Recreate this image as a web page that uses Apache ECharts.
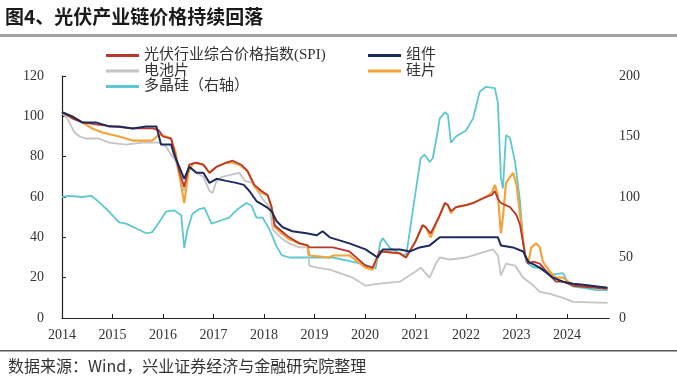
<!DOCTYPE html>
<html>
<head>
<meta charset="utf-8">
<script src="https://cdn.jsdelivr.net/npm/echarts@6/dist/echarts.min.js"></script>
<style>
html,body{margin:0;padding:0;background:#fff;}
#chart{width:677px;height:389px;}
</style>
</head>
<body>
<div id="chart"></div>
<script>
var yearTicks = [2014, 2015, 2016, 2017, 2018, 2019, 2020, 2021, 2022, 2023, 2024];
var leftTicks = [0, 20, 40, 60, 80, 100, 120];
var rightTicks = [0, 50, 100, 150, 200];

var seriesNames = ['光伏行业综合价格指数(SPI)', '组件', '电池片', '硅片', '多晶硅（右轴）'];

var spi = [[2014.00,102],[2014.20,99],[2014.40,97],[2014.67,96],[2015.00,95],[2015.40,94],[2015.80,94],[2015.92,93],[2016.00,90],[2016.16,89],[2016.25,80],[2016.33,72],[2016.42,65],[2016.52,76],[2016.66,77],[2016.80,76],[2016.92,72],[2017.06,75],[2017.25,77],[2017.38,78],[2017.55,76],[2017.67,73],[2017.81,66],[2017.95,63],[2018.07,61],[2018.15,55],[2018.21,46],[2018.35,43],[2018.50,40],[2018.70,37],[2018.86,36],[2018.90,35],[2019.30,35],[2019.36,35],[2019.69,33],[2020.01,26],[2020.15,25],[2020.29,33],[2020.69,32],[2020.81,30],[2021.00,38],[2021.14,46],[2021.20,45],[2021.30,42],[2021.48,51],[2021.58,57],[2021.64,56],[2021.70,53],[2021.80,55],[2022.00,56],[2022.14,57],[2022.39,60],[2022.51,61],[2022.57,63],[2022.63,59],[2022.69,57],[2022.87,55],[2023.00,51],[2023.07,46],[2023.17,31],[2023.23,27],[2023.33,28],[2023.46,27],[2023.66,21],[2023.78,18],[2023.92,18],[2024.12,16],[2024.80,14.5]];

var module = [[2014.00,102],[2014.20,100],[2014.40,97],[2014.67,97],[2014.93,95],[2015.13,95],[2015.40,94],[2015.67,95],[2015.87,95],[2015.90,92],[2015.96,86],[2016.16,86],[2016.22,81],[2016.32,75],[2016.42,69],[2016.52,75],[2016.66,72],[2016.80,72],[2016.92,67],[2017.06,69],[2017.25,68],[2017.45,67],[2017.60,66],[2017.71,63],[2017.85,58],[2018.05,55],[2018.15,53],[2018.25,48],[2018.37,45],[2018.56,43],[2018.84,42],[2019.04,41],[2019.16,43],[2019.30,40],[2019.69,37],[2020.01,34],[2020.25,30],[2020.35,34],[2020.69,34],[2020.89,33],[2021.08,35],[2021.28,36],[2021.48,40],[2021.68,40],[2022.14,40],[2022.63,40],[2022.69,36],[2022.93,35],[2023.13,33],[2023.23,28],[2023.46,25],[2023.72,20],[2023.92,18],[2024.12,17],[2024.32,16.5],[2024.80,15]];

var cell = [[2014.00,102],[2014.10,99],[2014.25,92],[2014.35,90],[2014.48,89],[2014.73,89],[2014.93,87],[2015.27,86],[2015.59,87],[2015.92,87],[2016.06,85],[2016.16,81],[2016.25,78],[2016.33,70],[2016.42,63],[2016.52,75],[2016.66,72],[2016.80,70],[2016.92,63],[2016.98,62],[2017.06,68],[2017.17,70],[2017.51,72],[2017.62,68],[2017.77,67],[2017.97,59],[2018.11,55],[2018.17,44],[2018.25,42],[2018.37,39],[2018.50,37],[2018.70,35],[2018.86,35],[2018.90,26],[2019.04,25],[2019.30,24],[2019.76,20],[2020.01,16],[2020.29,17],[2020.69,18],[2021.00,23],[2021.10,25],[2021.28,20],[2021.40,27],[2021.48,30],[2021.68,29],[2022.00,30],[2022.14,31],[2022.53,34],[2022.63,31],[2022.69,21],[2022.79,27],[2022.97,26],[2023.13,20],[2023.29,17],[2023.46,13],[2023.66,12],[2023.92,10],[2024.12,8],[2024.80,7.5]];

var wafer = [[2014.00,102],[2014.20,100],[2014.40,97],[2014.60,94],[2014.80,92],[2015.13,90],[2015.40,88],[2015.79,88],[2015.92,91],[2016.06,90],[2016.16,89],[2016.25,82],[2016.33,70],[2016.42,57],[2016.50,72],[2016.60,77],[2016.80,76],[2016.92,72],[2017.06,75],[2017.25,77],[2017.38,77],[2017.51,76],[2017.67,73],[2017.81,65],[2017.95,62],[2018.07,61],[2018.15,55],[2018.21,45],[2018.35,42],[2018.50,39],[2018.70,37],[2018.86,36],[2018.90,31],[2019.30,30],[2019.36,31],[2019.69,31],[2020.01,25],[2020.15,24],[2020.29,33],[2020.69,32],[2020.81,30],[2021.00,38],[2021.14,46],[2021.20,45],[2021.30,40],[2021.48,51],[2021.58,57],[2021.64,56],[2021.70,52],[2021.80,55],[2022.00,56],[2022.14,57],[2022.39,60],[2022.51,62],[2022.57,66],[2022.63,61],[2022.69,42],[2022.73,50],[2022.79,67],[2022.93,72],[2023.00,66],[2023.07,51],[2023.17,31],[2023.23,27],[2023.29,35],[2023.39,37],[2023.46,35],[2023.52,28],[2023.66,23],[2023.78,20],[2023.92,20],[2024.12,16],[2024.80,15]];

var polysilicon = [[2014.00,100],[2014.14,101],[2014.40,100],[2014.58,101],[2014.73,96],[2014.93,88],[2015.13,79],[2015.27,78],[2015.47,74],[2015.67,70],[2015.79,71],[2015.92,79],[2016.06,88],[2016.22,89],[2016.36,85],[2016.42,58],[2016.48,72],[2016.58,86],[2016.72,90],[2016.82,91],[2016.96,78],[2017.17,81],[2017.31,83],[2017.45,89],[2017.65,95],[2017.75,93],[2017.85,83],[2017.97,83],[2018.11,73],[2018.17,67],[2018.25,59],[2018.35,52],[2018.50,50],[2018.70,50],[2019.16,50],[2019.36,50],[2019.70,47],[2020.01,44],[2020.21,41],[2020.30,62],[2020.35,66],[2020.49,58],[2020.75,52],[2020.82,53],[2020.95,90],[2021.10,132],[2021.18,135],[2021.28,129],[2021.34,132],[2021.42,150],[2021.48,165],[2021.58,170],[2021.64,168],[2021.70,145],[2021.80,150],[2022.00,155],[2022.14,165],[2022.27,187],[2022.39,191],[2022.57,190],[2022.63,178],[2022.69,116],[2022.73,107],[2022.79,151],[2022.87,149],[2022.97,129],[2023.07,96],[2023.13,63],[2023.19,46],[2023.33,42],[2023.46,41],[2023.72,36],[2023.92,37],[2024.02,29],[2024.12,26],[2024.32,25],[2024.58,23],[2024.80,23]];

var colors = {
  spi: '#b8382c',
  module: '#1d2b5c',
  cell: '#c4c4c4',
  wafer: '#f2a43a',
  poly: '#5cc8d2'
};

var serif = '"Liberation Serif", "Noto Sans CJK SC", serif';
var chart = echarts.init(document.getElementById('chart'));

function lineSeries(name, data, color, yIndex, width) {
  return {
    name: name, type: 'line', data: data, yAxisIndex: yIndex,
    symbol: 'none', smooth: false,
    lineStyle: { color: color, width: width },
    itemStyle: { color: color },
    z: 2
  };
}

var legendText = { fontFamily: serif, fontSize: 15, color: '#333' };

chart.setOption({
  animation: false,
  grid: { left: 62, right: 68, top: 76, bottom: 71, containLabel: false },
  legend: [
    { data: [seriesNames[0], seriesNames[2], seriesNames[4]], orient: 'vertical', left: 106, top: 48,
      itemWidth: 33, itemHeight: 3, icon: 'rect', itemGap: 0.5, textStyle: legendText, padding: 0 },
    { data: [seriesNames[1], seriesNames[3]], orient: 'vertical', left: 368, top: 48,
      itemWidth: 33, itemHeight: 3, icon: 'rect', itemGap: 0.5, textStyle: legendText, padding: 0 }
  ],
  xAxis: {
    type: 'value', min: yearTicks[0], max: 2024.83, interval: 1,
    splitLine: { show: false },
    axisLine: { show: true, lineStyle: { color: '#222', width: 1.2 } },
    axisTick: { show: true, inside: true, length: 4, lineStyle: { color: '#222' }, customValues: yearTicks },
    axisLabel: { customValues: yearTicks, margin: 10, fontFamily: serif, fontSize: 14, color: '#333',
      formatter: function (v) { return String(Math.round(v)); } }
  },
  yAxis: [
    { type: 'value', min: leftTicks[0], max: leftTicks[leftTicks.length - 1], interval: 20,
      splitLine: { show: false },
      axisLine: { show: true, lineStyle: { color: '#222', width: 1.2 } },
      axisTick: { show: true, inside: true, length: 4, lineStyle: { color: '#222' } },
      axisLabel: { margin: 18, fontFamily: serif, fontSize: 14, color: '#333' } },
    { type: 'value', min: rightTicks[0], max: rightTicks[rightTicks.length - 1], interval: 50,
      position: 'right',
      splitLine: { show: false },
      axisLine: { show: false }, axisTick: { show: false },
      axisLabel: { margin: 10, fontFamily: serif, fontSize: 14, color: '#333' } }
  ],
  series: [
    lineSeries(seriesNames[4], polysilicon, colors.poly, 1, 1.8),
    lineSeries(seriesNames[2], cell, colors.cell, 0, 1.8),
    lineSeries(seriesNames[3], wafer, colors.wafer, 0, 2.2),
    lineSeries(seriesNames[0], spi, colors.spi, 0, 1.8),
    lineSeries(seriesNames[1], module, colors.module, 0, 2)
  ],
  graphic: [
    { type: 'text', left: 5, top: 7, style: { text: '图4、光伏产业链价格持续回落', fontSize: 19, fontWeight: 'bold',
      fontFamily: '"Noto Sans CJK SC", sans-serif', fill: '#1a1a1a' } },
    { type: 'rect', left: 0, top: 34, shape: { width: 677, height: 3 }, style: { fill: '#a3a3a3' } },
    { type: 'rect', left: 0, top: 350, shape: { width: 677, height: 1.5 }, style: { fill: '#555' } },
    { type: 'text', left: 8, top: 358, style: { text: '数据来源：Wind，兴业证券经济与金融研究院整理', fontSize: 16,
      fontFamily: '"Noto Sans CJK SC", sans-serif', fill: '#333' } }
  ]
});
</script>
</body>
</html>
